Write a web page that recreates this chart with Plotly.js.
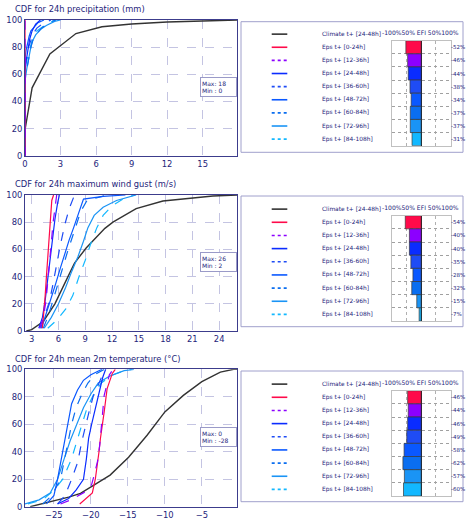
<!DOCTYPE html>
<html><head><meta charset="utf-8">
<script src="https://cdn.plot.ly/plotly-3.0.1.min.js"></script>
<style>html,body{margin:0;padding:0;background:#fff}</style>
</head><body><div id="chart" style="width:466px;height:522px"></div>
<script>
// ---------- shared series info ----------
const seriesNames = ['Climate t+ [24-48h]','Eps t+ [0-24h]','Eps t+ [12-36h]','Eps t+ [24-48h]','Eps t+ [36-60h]','Eps t+ [48-72h]','Eps t+ [60-84h]','Eps t+ [72-96h]','Eps t+ [84-108h]'];
const seriesColors = ['#333333','#ff0a4a','#8c00ff','#0a2cff','#1f4cf5','#0a58ff','#0a6ef0','#1a94f5','#12b8ff'];
const seriesDash = ['solid','solid','dash','solid','dash','solid','dash','solid','dash'];
const yTicks = [0,20,40,60,80,100];

// ---------- panel 1: precipitation ----------
const precipTitle = 'CDF for 24h precipitation (mm)';
const precipTicks = [0,3,6,9,12,15];
const precipMaxMin = ['Max: 18','Min : 0'];
const precipEFI = [-52,-46,-44,-38,-34,-37,-37,-31];
const precipX = [
  [0,0,0.6,2.1,4.3,6.5,9,12,15,18],
  [0,0],
  [0,0],
  [0,0,0.1,0.25,0.4,0.6,0.9,1.3],
  [0,0,0.15,0.3,0.5,0.7,1.0,1.6,2.2],
  [0,0,0.1,0.2,0.35,0.5,0.8,1.1,1.6],
  [0,0,0.2,0.35,0.5,0.7,1.0,1.4,2.0,2.6],
  [0,0,0.15,0.3,0.45,0.6,0.9,1.3,1.8,2.5,3.0],
  [0,0,0.2,0.4,0.55,0.7,1.0,1.5,2.0,2.6]
];
const precipY = [
  [0,19,50,75,90,95,97,98.5,99.3,100],
  [0,100],
  [0,100],
  [0,62,70,78,86,92,97,100],
  [0,68,74,80,85,90,94,98,100],
  [0,72,78,83,88,92,95,98,100],
  [0,60,66,74,80,86,90,94,98,100],
  [0,55,64,72,78,84,89,93,96,99,100],
  [0,65,72,78,82,88,92,95,98,100]
];

// ---------- panel 2: wind gust ----------
const gustTitle = 'CDF for 24h maximum wind gust (m/s)';
const gustTicks = [3,6,9,12,15,18,21,24];
const gustMaxMin = ['Max: 26','Min : 2'];
const gustEFI = [-54,-40,-40,-35,-28,-32,-15,-7];
const gustX = [
  [2.4,3,4.3,5.6,6.7,7.8,9.1,10.2,11.2,12.1,14.7,17.7,20.3,23.3,26],
  [4.2,4.35,4.5,4.65,4.8,4.95,5.1,5.25,5.45],
  [3.9,4.3,4.6,4.8,5.0,5.2,5.4,5.6,5.8],
  [3.8,4.2,4.5,4.8,5.0,5.3,5.6,5.9,6.1],
  [4.0,4.5,5.0,5.4,5.8,6.2,6.7,7.2,7.8],
  [4.1,4.6,5.2,5.7,6.2,6.7,7.2,7.7,8.2,8.8,11,13.5],
  [4.3,4.9,5.5,6.0,6.5,7.0,7.5,8.0,8.5,9.2,11.5],
  [4.4,5.2,6.0,6.8,7.5,8.2,8.8,9.3,10.0,11.0,12.5,14.7],
  [4.8,5.8,6.8,7.6,8.3,9.0,9.6,10.3,11.0,12.0,13.2,14.5]
];
const gustY = [
  [0,1,7,20,35,50,61,69,75.5,80,90,95.6,97.5,99.3,100],
  [2,12,25,40,55,70,85,96,100],
  [2,10,22,35,50,65,80,92,100],
  [2,10,22,38,52,68,82,94,100],
  [2,12,22,35,50,63,78,90,100],
  [2,12,24,35,46,57,67,76,86,97,99,100],
  [2,12,25,36,48,58,68,78,88,96,100],
  [2,10,20,32,44,55,66,76,85,91,96,100],
  [2,8,16,26,40,52,64,76,85,92,97,100]
];

// ---------- panel 3: 2m temperature ----------
const tempTitle = 'CDF for 24h mean 2m temperature (\u00B0C)';
const tempTicks = [-25,-20,-15,-10,-5];
const tempMaxMin = ['Max: 0','Min : -28'];
const tempEFI = [-46,-44,-46,-49,-58,-62,-57,-60];
const tempX = [
  [-28.2,-27,-25,-23,-21.4,-19.9,-17.4,-14.9,-12.4,-10,-7.5,-5,-2.5,-0.7,-0.2],
  [-21.5,-20.5,-19.8,-19.4,-19.1,-18.9,-18.7,-18.4,-18.2,-17.8,-17.1,-16.7],
  [-24.1,-22.7,-20.7,-19.9,-19.6,-19.1,-18.8,-18.6,-18.2,-17.5,-17.0],
  [-24.5,-23.0,-22.0,-21.0,-20.6,-20.3,-19.9,-19.4,-18.9,-18.4,-18.0],
  [-24.5,-23.5,-22.6,-21.8,-21.2,-20.7,-20.2,-19.7,-19.1,-18.5,-18.0],
  [-26.0,-25.0,-24.5,-24.0,-23.6,-23.2,-22.6,-21.8,-21.0,-20.0,-18.5],
  [-26.5,-25.3,-24.1,-23.5,-23.0,-22.6,-22.0,-21.2,-20.4,-19.5,-18.2],
  [-28.9,-27.0,-25.5,-24.5,-23.6,-22.8,-21.9,-21.0,-20.0,-19.0,-17.5,-15.5,-14.2],
  [-28.5,-26.5,-25.0,-23.8,-22.6,-21.9,-21.2,-20.5,-19.6,-18.6,-17.0,-15.5,-14.5]
];
const tempY = [
  [0,1.5,4,7,9.7,14.6,23,36,52,69,81,91,98,100,100],
  [2,7,10,20,30,40,50,60,69,86,97,100],
  [2,5,11,16,22,33,45,57,81,96,100],
  [2,6,12,20,35,50,60,72,84,94,100],
  [2,8,20,32,48,60,70,80,88,95,100],
  [2,8,20,35,48,60,75,85,92,96,100],
  [2,8,20,35,48,60,72,82,90,96,100],
  [2,5,10,20,35,48,60,72,82,90,95,99,100],
  [2,5,12,20,35,48,60,72,82,90,96,99,100]
];

// ---------- build ----------
const W = 466, H = 522;
const PX = v => v / W, PY = v => 1 - v / H;
const FONT = 'DejaVu Sans, sans-serif';
const NAVY = '#24247a';

const panels = [
  {title: precipTitle, xs: precipX, ys: precipY, range: [0, 17.9], ticks: precipTicks, efi: precipEFI, mm: precipMaxMin,
   plotTop: 20, plotBot: 155.7, titleY: 8.5, boxTop: 21.7, boxBot: 152.3, efiTop: 40.7, efiBot: 145.7, mmY: 87.5},
  {title: gustTitle, xs: gustX, ys: gustY, range: [2.25, 26], ticks: gustTicks, efi: gustEFI, mm: gustMaxMin,
   plotTop: 195, plotBot: 331, titleY: 184, boxTop: 196, boxBot: 326.7, efiTop: 215.7, efiBot: 321, mmY: 262.3},
  {title: tempTitle, xs: tempX, ys: tempY, range: [-28.9, -0.25], ticks: tempTicks, efi: tempEFI, mm: tempMaxMin,
   plotTop: 369.3, plotBot: 506.7, titleY: 359, boxTop: 371, boxBot: 501.7, efiTop: 390.7, efiBot: 496, mmY: 437.3}
];

const epsNames = seriesNames.slice(1);
const drawOrder = [0, 8, 7, 6, 5, 4, 3, 1, 2];
const traces = [];
const layout = {
  width: W, height: H, margin: {l: 0, r: 0, t: 0, b: 0},
  paper_bgcolor: '#fff', plot_bgcolor: '#fff', showlegend: false,
  bargap: 0, font: {family: FONT, color: NAVY},
  shapes: [], annotations: []
};

panels.forEach((p, i) => {
  const xa = i === 0 ? 'x' : 'x' + (i + 1);
  const ya = i === 0 ? 'y' : 'y' + (i + 1);
  const xb = 'x' + (i + 4), yb = 'y' + (i + 4);
  const xKey = i === 0 ? 'xaxis' : 'xaxis' + (i + 1);
  const yKey = i === 0 ? 'yaxis' : 'yaxis' + (i + 1);

  drawOrder.forEach(k => {
    traces.push({
      type: 'scatter', mode: 'lines', x: p.xs[k], y: p.ys[k], xaxis: xa, yaxis: ya,
      line: {color: seriesColors[k], width: k === 0 ? 1.4 : 1.2, dash: seriesDash[k]},
      hoverinfo: 'skip'
    });
  });

  layout[xKey] = {
    domain: [PX(25), PX(237)], anchor: ya, range: p.range, tickvals: p.ticks,
    showgrid: true, gridcolor: '#c4c4e2', griddash: 'dash', gridwidth: 1,
    showline: true, linecolor: '#3c3c8c', linewidth: 1, mirror: true, zeroline: false,
    ticks: '', tickfont: {family: FONT, size: 8.4, color: NAVY}
  };
  layout[yKey] = {
    domain: [PY(p.plotBot), PY(p.plotTop)], anchor: xa, range: [0, 100], tickvals: yTicks,
    showgrid: true, gridcolor: '#c4c4e2', griddash: 'dash', gridwidth: 1,
    showline: true, linecolor: '#3c3c8c', linewidth: 1, mirror: true, zeroline: false,
    ticks: '', tickfont: {family: FONT, size: 8.4, color: NAVY}
  };

  // EFI bars
  traces.push({
    type: 'bar', orientation: 'h', x: p.efi, y: epsNames, xaxis: xb, yaxis: yb,
    marker: {color: seriesColors.slice(1), line: {color: '#3a3a3a', width: 0.7}},
    hoverinfo: 'skip'
  });
  layout['xaxis' + (i + 4)] = {
    domain: [PX(391.7), PX(450.7)], anchor: yb, range: [-100, 100],
    tickvals: [-100, -50, 0, 50, 100], showticklabels: false, ticks: '',
    showgrid: true, gridcolor: '#b0b0b0', griddash: 'dot', gridwidth: 1,
    zeroline: true, zerolinecolor: '#111', zerolinewidth: 1.3,
    showline: true, linecolor: '#c0c0c0', mirror: true
  };
  layout['yaxis' + (i + 4)] = {
    domain: [PY(p.efiBot), PY(p.efiTop)], anchor: xb, type: 'category',
    categoryorder: 'array', categoryarray: epsNames, autorange: 'reversed',
    tickmode: 'linear', tick0: 0, dtick: 1,
    tickson: 'boundaries', showticklabels: false, ticks: '',
    showgrid: true, gridcolor: '#a0a0a0', griddash: 'dot', gridwidth: 1,
    showline: true, linecolor: '#c0c0c0', mirror: true, zeroline: false
  };

  // title
  layout.annotations.push({
    xref: 'paper', yref: 'paper', x: PX(13), y: PY(p.titleY), xanchor: 'left', yanchor: 'middle',
    text: p.title, showarrow: false, font: {family: FONT, size: 8.3, color: NAVY}
  });
  // max / min box
  layout.annotations.push({
    xref: 'paper', yref: 'paper', x: PX(236.5), y: PY(p.mmY), xanchor: 'right', yanchor: 'middle',
    text: p.mm.join('<br>'), align: 'left', showarrow: false, bgcolor: '#fff',
    width: 33, height: 16, borderpad: 1,
    bordercolor: '#9a9ac8', borderwidth: 1,
    font: {family: FONT, size: 6, color: NAVY}
  });
  // legend box
  layout.shapes.push({
    type: 'rect', xref: 'paper', yref: 'paper', x0: PX(241), x1: PX(463),
    y0: PY(p.boxBot), y1: PY(p.boxTop), line: {color: '#a0a0cc', width: 1}, fillcolor: 'rgba(0,0,0,0)'
  });
  // EFI header
  const rowH = (p.efiBot - p.efiTop) / 8;
  layout.annotations.push({
    xref: 'paper', yref: 'paper', x: PX(420.4), y: PY(p.efiTop - 0.62 * rowH), xanchor: 'center', yanchor: 'middle',
    text: '-100%50% EFI 50%100%', showarrow: false, font: {family: FONT, size: 6.05, color: NAVY}
  });
  // legend rows
  seriesNames.forEach((name, k) => {
    const yy = p.efiTop + (k - 0.5) * rowH;
    layout.shapes.push({
      type: 'line', xref: 'paper', yref: 'paper', x0: PX(271.7), x1: PX(287.3), y0: PY(yy), y1: PY(yy),
      line: {color: seriesColors[k], width: 1.6, dash: seriesDash[k] === 'dash' ? 'dot' : 'solid'}
    });
    layout.annotations.push({
      xref: 'paper', yref: 'paper', x: PX(320), y: PY(yy), xanchor: 'left', yanchor: 'middle',
      text: name, showarrow: false, font: {family: FONT, size: 5.9, color: NAVY}
    });
  });
  // EFI percentages
  p.efi.forEach((v, k) => {
    layout.annotations.push({
      xref: 'paper', yref: yb, x: PX(450), y: epsNames[k], xanchor: 'left', yanchor: 'middle',
      text: v + '%', showarrow: false, borderpad: 0, font: {family: FONT, size: 5.5, color: NAVY}
    });
  });
});

Plotly.newPlot('chart', traces, layout, {staticPlot: true, displayModeBar: false});
</script>
</body></html>
